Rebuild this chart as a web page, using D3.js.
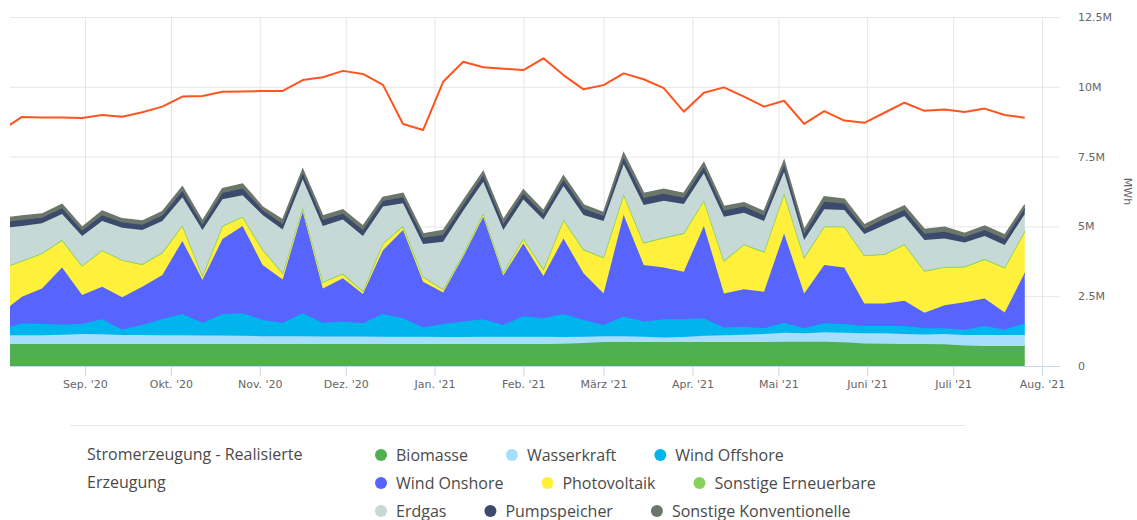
<!DOCTYPE html>
<html>
<head>
<meta charset="utf-8">
<script src="https://cdn.jsdelivr.net/npm/d3@7"></script>
<style>
  body { margin: 0; background: #fff; }
  .tick text { font-family: "DejaVu Sans", sans-serif; font-size: 11px; fill: #666; }
  .legend text { font-family: "Open Sans", sans-serif; font-size: 16px; fill: #4a4a4a; }
</style>
</head>
<body>
<div id="chart"></div>
<script>
// weekly points (Mondays)
var weeks = ["2020-08-03","2020-08-10","2020-08-17","2020-08-24","2020-08-31","2020-09-07","2020-09-14",
  "2020-09-21","2020-09-28","2020-10-05","2020-10-12","2020-10-19","2020-10-26","2020-11-02","2020-11-09",
  "2020-11-16","2020-11-23","2020-11-30","2020-12-07","2020-12-14","2020-12-21","2020-12-28","2021-01-04",
  "2021-01-11","2021-01-18","2021-01-25","2021-02-01","2021-02-08","2021-02-15","2021-02-22","2021-03-01",
  "2021-03-08","2021-03-15","2021-03-22","2021-03-29","2021-04-05","2021-04-12","2021-04-19","2021-04-26",
  "2021-05-03","2021-05-10","2021-05-17","2021-05-24","2021-05-31","2021-06-07","2021-06-14","2021-06-21",
  "2021-06-28","2021-07-05","2021-07-12","2021-07-19","2021-07-26"];

// values in million MWh
var biomasse = [0.79,0.79,0.79,0.79,0.79,0.79,0.79,0.79,0.79,0.79,0.79,0.79,0.79,0.79,0.79,0.79,0.79,0.79,0.79,0.79,
  0.79,0.79,0.79,0.79,0.79,0.79,0.79,0.79,0.80,0.82,0.86,0.86,0.86,0.86,0.86,0.86,0.86,0.86,0.86,0.87,
  0.87,0.87,0.85,0.81,0.80,0.79,0.79,0.78,0.73,0.72,0.72,0.72];
var wasserkraft = [0.31,0.31,0.31,0.33,0.36,0.35,0.32,0.32,0.31,0.31,0.30,0.30,0.29,0.28,0.28,0.28,0.27,0.27,0.27,0.26,
  0.26,0.26,0.25,0.25,0.26,0.26,0.26,0.26,0.24,0.23,0.21,0.21,0.19,0.16,0.18,0.22,0.24,0.26,0.29,0.32,
  0.30,0.34,0.34,0.36,0.37,0.36,0.34,0.37,0.38,0.39,0.39,0.39];
var windOffshore = [0.23,0.43,0.40,0.37,0.35,0.53,0.20,0.36,0.58,0.76,0.46,0.76,0.81,0.58,0.48,0.82,0.49,0.53,0.47,0.81,
  0.66,0.33,0.46,0.55,0.62,0.42,0.73,0.66,0.82,0.60,0.40,0.70,0.54,0.65,0.63,0.63,0.28,0.29,0.20,0.36,
  0.18,0.32,0.31,0.26,0.26,0.28,0.22,0.20,0.20,0.32,0.20,0.42];
var windOnshore = [0.60,0.95,1.28,2.04,1.04,1.17,1.15,1.37,1.58,2.62,1.53,2.70,3.12,1.97,1.55,3.64,1.23,1.55,1.05,2.29,
  3.16,1.64,1.13,2.33,3.68,1.77,2.61,1.51,2.71,1.67,1.13,3.64,2.03,1.86,1.71,3.30,1.22,1.34,1.31,3.20,
  1.25,2.09,2.03,0.81,0.81,0.91,0.56,0.83,0.97,0.99,0.61,1.81];
var photovoltaik = [1.54,1.26,1.23,0.96,1.02,1.28,1.31,0.78,0.78,0.53,0.12,0.44,0.31,0.53,0.20,0.12,0.20,0.14,0.08,0.22,
  0.12,0.16,0.09,0.06,0.09,0.08,0.15,0.22,0.64,0.83,1.26,0.71,0.77,1.04,1.35,0.90,1.14,1.58,1.40,1.41,
  1.26,1.35,1.44,1.70,1.74,1.99,1.47,1.34,1.25,1.38,1.58,1.47];
var sonstigeErneuerbare = [0.03,0.03,0.03,0.03,0.03,0.03,0.03,0.03,0.03,0.03,0.03,0.03,0.03,0.03,0.03,0.03,0.03,0.03,0.03,0.03,
  0.03,0.03,0.03,0.03,0.03,0.03,0.03,0.03,0.03,0.03,0.03,0.03,0.03,0.03,0.03,0.03,0.03,0.03,0.03,0.03,
  0.03,0.03,0.03,0.03,0.03,0.03,0.03,0.03,0.03,0.03,0.03,0.03];
var erdgas = [1.44,1.24,1.07,0.92,1.07,1.04,1.15,1.22,1.12,1.00,1.64,0.95,0.77,1.23,1.56,1.01,2.00,1.94,1.97,1.31,
  0.81,1.16,1.70,1.55,1.13,1.52,1.39,1.78,1.21,1.23,1.30,1.08,1.35,1.32,1.04,0.96,1.58,1.13,1.10,0.77,
  0.62,0.61,0.59,0.76,1.04,1.01,1.10,1.02,0.86,0.83,0.80,0.60];
var pumpspeicher = [0.21,0.22,0.20,0.21,0.19,0.21,0.19,0.19,0.20,0.23,0.19,0.23,0.24,0.17,0.20,0.21,0.22,0.20,0.21,0.20,
  0.21,0.22,0.24,0.21,0.22,0.22,0.21,0.19,0.22,0.22,0.18,0.23,0.25,0.25,0.23,0.23,0.22,0.22,0.20,0.23,
  0.22,0.27,0.23,0.19,0.22,0.22,0.23,0.24,0.20,0.21,0.22,0.20];
var sonstigeKonv = [0.14,0.14,0.13,0.14,0.12,0.15,0.13,0.13,0.14,0.15,0.13,0.15,0.16,0.11,0.14,0.14,0.14,0.14,0.14,0.13,
  0.14,0.14,0.16,0.14,0.14,0.14,0.14,0.12,0.14,0.14,0.12,0.16,0.16,0.16,0.15,0.15,0.14,0.14,0.14,0.16,
  0.14,0.18,0.15,0.13,0.14,0.14,0.15,0.16,0.13,0.14,0.14,0.13];
// red line
var verbrauch = [8.45,8.92,8.90,8.90,8.88,8.99,8.93,9.09,9.29,9.65,9.67,9.82,9.83,9.85,9.85,10.24,10.34,10.57,10.46,10.07,
  8.67,8.45,10.18,10.90,10.70,10.65,10.60,11.02,10.42,9.91,10.06,10.48,10.27,9.95,9.11,9.79,9.98,9.65,9.29,9.50,
  8.67,9.13,8.79,8.71,9.07,9.43,9.14,9.19,9.10,9.22,8.99,8.89];

var seriesNames = ["Biomasse","Wasserkraft","Wind Offshore","Wind Onshore","Photovoltaik",
  "Sonstige Erneuerbare","Erdgas","Pumpspeicher","Sonstige Konventionelle"];
var seriesColors = ["#50b050","#a6dffc","#00b4ee","#5864fe","#fff03c","#88d25c","#c6d9d7","#3c4a6c","#6c776b"];
var seriesValues = [biomasse, wasserkraft, windOffshore, windOnshore, photovoltaik,
  sonstigeErneuerbare, erdgas, pumpspeicher, sonstigeKonv];

// axis ticks
var monthTicks = ["2020-09-01","2020-10-01","2020-11-01","2020-12-01","2021-01-01","2021-02-01",
  "2021-03-01","2021-04-01","2021-05-01","2021-06-01","2021-07-01","2021-08-01"];
var monthLabels = ["Sep. '20","Okt. '20","Nov. '20","Dez. '20","Jan. '21","Feb. '21",
  "März '21","Apr. '21","Mai '21","Juni '21","Juli '21","Aug. '21"];
var yTicks = [0, 2.5, 5, 7.5, 10, 12.5];
var yLabels = ["0","2.5M","5M","7.5M","10M","12.5M"];

var svgWidth = 1137;
var svgHeight = 520;
var plot = { left: 10, right: 1060, top: 17, bottom: 366 };

var svg = d3.select("#chart")
  .append("svg")
  .attr("width", svgWidth)
  .attr("height", svgHeight);

var parse = d3.utcParse("%Y-%m-%d");
var dates = weeks.map(parse);

var x = d3.scaleUtc()
  .domain([Date.UTC(2020, 7, 5, 20), Date.UTC(2021, 7, 7, 7)])
  .range([plot.left, plot.right]);

var y = d3.scaleLinear()
  .domain([0, 12.5])
  .range([plot.bottom, plot.top]);

// grid lines
var yGrid = svg.append("g")
  .attr("transform", `translate(${plot.left},0)`)
  .call(d3.axisRight(y).tickValues(yTicks).tickSize(plot.right - plot.left).tickFormat(""));
yGrid.select(".domain").remove();
yGrid.selectAll("line").attr("stroke", "#e6e6e6");

var xGrid = svg.append("g")
  .attr("transform", `translate(0,${plot.top})`)
  .call(d3.axisBottom(x).tickValues(monthTicks.map(parse)).tickSize(plot.bottom - plot.top).tickFormat(""));
xGrid.select(".domain").remove();
xGrid.selectAll("line").attr("stroke", "#e6e6e6");

// stacked data
var rows = dates.map(function(d, i) {
  var row = { date: d };
  seriesNames.forEach(function(name, k) { row[name] = seriesValues[k][i]; });
  return row;
});
var stacked = d3.stack().keys(seriesNames)(rows);

svg.append("clipPath")
  .attr("id", "clip")
  .append("rect")
  .attr("x", plot.left)
  .attr("y", 0)
  .attr("width", plot.right - plot.left)
  .attr("height", plot.bottom + 1);

var chartGroup = svg.append("g").attr("clip-path", "url(#clip)");

var area = d3.area()
  .x(d => x(d.data.date))
  .y0(d => y(d[0]))
  .y1(d => y(d[1]));

var topLine = d3.line()
  .x(d => x(d.data.date))
  .y(d => y(d[1]));

stacked.forEach(function(layer, k) {
  chartGroup.append("path")
    .datum(layer)
    .attr("d", area)
    .attr("fill", seriesColors[k]);
  chartGroup.append("path")
    .datum(layer)
    .attr("d", topLine)
    .attr("fill", "none")
    .attr("stroke", seriesColors[k])
    .attr("stroke-width", 1.5);
});

// consumption line
chartGroup.append("path")
  .datum(verbrauch)
  .attr("d", d3.line().x((d, i) => x(dates[i])).y(d => y(d)))
  .attr("fill", "none")
  .attr("stroke", "#ff5420")
  .attr("stroke-width", 2)
  .attr("stroke-linejoin", "round");

// x axis
var xAxis = svg.append("g")
  .attr("transform", `translate(0,${plot.bottom})`)
  .call(d3.axisBottom(x)
    .tickValues(monthTicks.map(parse))
    .tickSize(10)
    .tickSizeOuter(0)
    .tickPadding(4)
    .tickFormat((d, i) => monthLabels[i]));
xAxis.selectAll("line").attr("stroke", "#ccd6eb");
xAxis.select(".domain").attr("stroke", "#ccd6eb").attr("d", `M${plot.left},0.5H${plot.right}`);

// y axis labels on the right
var yAxis = svg.append("g")
  .attr("transform", `translate(${plot.right},0)`)
  .call(d3.axisRight(y)
    .tickValues(yTicks)
    .tickSize(0)
    .tickPadding(18)
    .tickFormat((d, i) => yLabels[i]));
yAxis.select(".domain").remove();

svg.append("text")
  .attr("transform", `translate(1124,${(plot.top + plot.bottom) / 2}) rotate(90)`)
  .attr("text-anchor", "middle")
  .style("font-family", "DejaVu Sans, sans-serif")
  .style("font-size", "11px")
  .style("fill", "#666")
  .text("MWh");

// legend
var legend = svg.append("g").attr("class", "legend");

legend.append("line")
  .attr("x1", 70).attr("x2", 965)
  .attr("y1", 425.5).attr("y2", 425.5)
  .attr("stroke", "#e6e6e6");

legend.append("text").attr("x", 87).attr("y", 460).text("Stromerzeugung - Realisierte");
legend.append("text").attr("x", 87).attr("y", 488).text("Erzeugung");

var legendRows = [[0, 1, 2], [3, 4, 5], [6, 7, 8]];
legendRows.forEach(function(row, r) {
  var cx = 381;
  var cy = 455 + r * 28;
  row.forEach(function(k) {
    legend.append("circle")
      .attr("cx", cx).attr("cy", cy).attr("r", 6)
      .attr("fill", seriesColors[k]);
    var label = legend.append("text")
      .attr("x", cx + 15).attr("y", cy + 5.5)
      .text(seriesNames[k]);
    cx = cx + 15 + label.node().getComputedTextLength() + 44;
  });
});
</script>
</body>
</html>
